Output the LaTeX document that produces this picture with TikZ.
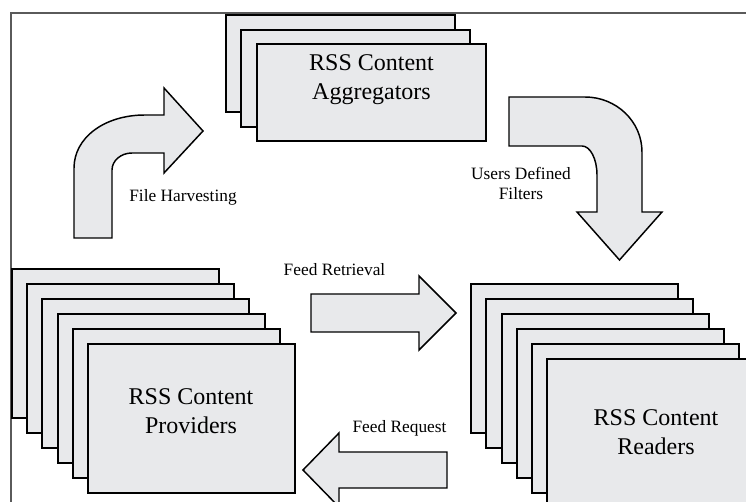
\documentclass[tikz,border=0pt]{standalone}
\usepackage{fontspec}
\setmainfont{Liberation Serif}
\definecolor{cardfill}{RGB}{232,233,235}
\definecolor{framecol}{RGB}{90,90,90}
\begin{document}
\begin{tikzpicture}[x=0.75pt,y=-0.75pt,
  card/.style={draw=black, fill=cardfill, line width=1.4pt, inner sep=0pt, outer sep=0pt, anchor=north west},
  provcard/.style={card, minimum width=155.25pt, minimum height=112pt},
  aggcard/.style={card, minimum width=171.75pt, minimum height=72.75pt},
  blockarrow/.style={draw=black, fill=cardfill, line width=1.1pt, line join=miter},
  frameline/.style={draw=framecol, line width=0.8pt},
  bigtext/.style={align=center, font=\rmfamily\fontsize{18}{21.75}\selectfont, inner sep=0pt},
  smalltext/.style={align=center, font=\rmfamily\fontsize{13}{15}\selectfont, inner sep=0pt}]
\useasboundingbox (0,0) rectangle (746,502);
\clip (0,0) rectangle (746,502);
% outer frame
\draw[frameline] (11,510) -- (11,13) -- (760,13);
% aggregators
\node[aggcard] (agg1) at (226,15) {};
\node[aggcard] (agg2) at (241,30) {};
\node[aggcard] (agg3) at (257,44) {};
\node[bigtext] (aggtext) at (371.5,80) {RSS Content\\Aggregators};
% providers
\node[provcard] (prov1) at (12,269) {};
\node[provcard] (prov2) at (27,284) {};
\node[provcard] (prov3) at (42,299) {};
\node[provcard] (prov4) at (58,314) {};
\node[provcard] (prov5) at (73,329) {};
\node[provcard] (prov6) at (88,344) {};
\node[bigtext] (provtext) at (191,411.5) {RSS Content\\Providers};
% readers
\node[provcard] (read1) at (471,284) {};
\node[provcard] (read2) at (486,299) {};
\node[provcard] (read3) at (502,314) {};
\node[provcard] (read4) at (517,329) {};
\node[provcard] (read5) at (532,344) {};
\node[provcard] (read6) at (547,359) {};
\node[bigtext] (readtext) at (656,432) {RSS Content\\Readers};
% File Harvesting bent arrow
\path[blockarrow] (74,238) -- (74,168)
  .. controls (74,138) and (104,115) .. (145,115)
  -- (164,115) -- (164,88) -- (203,131) -- (164,173) -- (164,153) -- (132,153)
  .. controls (121,153) and (112,160.6) .. (112,170)
  -- (112,238) -- cycle;
\node[smalltext] (harvest) at (183,197) {File Harvesting};
% Users Defined Filters bent arrow
\path[blockarrow] (509,97) -- (585,97)
  .. controls (616.5,97) and (642,121.6) .. (642,152)
  -- (642,212) -- (662,212) -- (619.5,260) -- (577,212) -- (597,212) -- (597,175)
  .. controls (597,159) and (590.3,146) .. (582,146)
  -- (509,146) -- cycle;
\node[smalltext] (filters) at (521,183) {Users Defined\\Filters};
% Feed Retrieval arrow
\path[blockarrow] (311,294) -- (419,294) -- (419,276) -- (456,313) -- (419,350) -- (419,332) -- (311,332) -- cycle;
\node[smalltext] (retrieval) at (334.5,270) {Feed Retrieval};
% Feed Request arrow
\path[blockarrow] (303,470) -- (339,433) -- (339,452) -- (447,452) -- (447,488) -- (339,488) -- (339,507) -- cycle;
\node[smalltext] (request) at (399.5,428) {Feed Request};
\end{tikzpicture}
\end{document}
